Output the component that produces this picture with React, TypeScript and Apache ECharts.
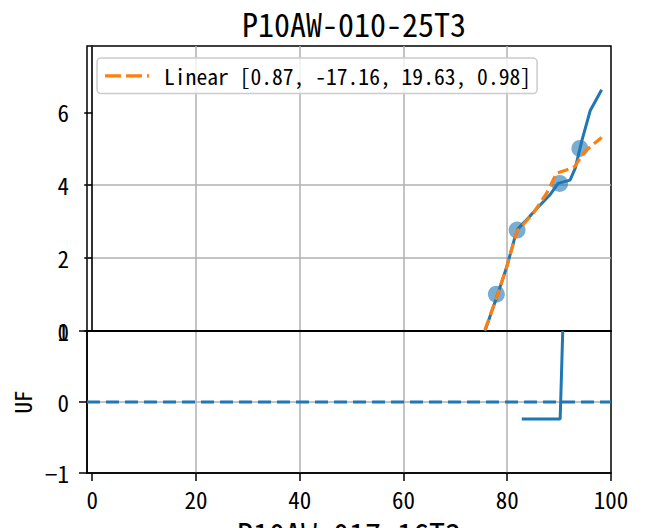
import React, { useEffect, useRef } from "react";
import * as echarts from "echarts";

const titleText = "P10AW-010-25T3";
const xName = "P10AW-017-16T3";
const yNameLower = "UF";
const legendName = "Linear [0.87, -17.16, 19.63, 0.98]";

const xTicks = [0, 20, 40, 60, 80, 100];
const upperYTicks = [0, 2, 4, 6];
const lowerYTicks = [-1, 0, 1];

// measured curve (upper panel)
const curveX = [75.7, 78.0, 79.9, 81.5, 82.1, 83.4, 85.7, 88.2, 89.8, 92.1, 93.1, 94.4, 96.0, 98.2];
const curveY = [0.0, 0.94, 1.76, 2.58, 2.81, 3.0, 3.36, 3.73, 4.05, 4.14, 4.46, 5.23, 6.05, 6.62];

// linear fit (dashed orange)
const fitX = [75.7, 78.0, 79.9, 81.8, 85.0, 87.6, 89.5, 91.4, 93.0, 94.9, 98.2];
const fitY = [0.03, 0.94, 1.76, 2.72, 3.23, 3.78, 4.33, 4.42, 4.51, 4.92, 5.31];

// sample points
const ptsX = [77.9, 81.9, 90.1, 94.0];
const ptsY = [1.01, 2.77, 4.05, 5.01];

// lower panel
const refLineX = [-1, 100];
const refLineY = [0, 0];
const stepX = [82.8, 90.2, 90.7];
const stepY = [-0.24, -0.24, 1.0];

const FONT = "'Noto Sans Mono CJK JP', 'Noto Sans CJK JP', monospace";
const BLUE = "#1f77b4";
const ORANGE = "#ff7f0e";
const GRID = "#b0b0b0";

const zip = (a: number[], b: number[]) => a.map((v, i) => [v, b[i]]);
const minus = (v: number) => (v < 0 ? "\u2212" + Math.abs(v) : String(v));

export default function App() {
  const ref = useRef<HTMLDivElement>(null);
  useEffect(() => {
    if (!ref.current) return;
    const chart = echarts.init(ref.current, null, { renderer: "svg" });
    const axisLabelStyle = { fontFamily: FONT, fontSize: 23, color: "#000" };
    const splitLine = { show: true, showMinLine: false, showMaxLine: false, lineStyle: { color: GRID, width: 1.5 } };
    const tick = { show: true, length: 8, inside: false, lineStyle: { color: "#000", width: 1.5 } };
    chart.setOption({
      animation: false,
      backgroundColor: "#fff",
      title: {
        text: titleText,
        left: 349,
        textAlign: "center",
        top: 2,
        textStyle: { fontFamily: FONT, fontSize: 32, fontWeight: "normal", color: "#000" },
      },
      legend: {
        data: [{ name: legendName, icon: "path://M0,0h16v3h-16z M21,0h16v3h-16z M42,0h2v3h-2z" }],
        left: 97,
        top: 58,
        orient: "horizontal",
        padding: [7, 6, 7, 8],
        itemWidth: 44,
        itemHeight: 3.2,
        symbolKeepAspect: false,
        backgroundColor: "rgba(255,255,255,0.8)",
        borderColor: "#cccccc",
        borderWidth: 1.5,
        borderRadius: 4,
        textStyle: { fontFamily: FONT, fontSize: 21.6, color: "#000", padding: [0, 0, 0, 10] },
      },
      grid: [
        { left: 87, top: 46, width: 524, height: 285, show: true, borderColor: "#000", borderWidth: 1.5, backgroundColor: "transparent", outerBoundsMode: "none", containLabel: false },
        { left: 87, top: 331, width: 524, height: 142, show: true, borderColor: "#000", borderWidth: 1.5, backgroundColor: "transparent", outerBoundsMode: "none", containLabel: false },
      ],
      xAxis: [
        {
          type: "value", gridIndex: 0, min: -1, max: 100, splitNumber: 5,
          axisLine: { show: true, lineStyle: { color: "#000", width: 2 } },
          axisTick: { show: false },
          axisLabel: { show: false },
          splitLine,
        },
        {
          type: "value", gridIndex: 1, min: -1, max: 100, splitNumber: 5,
          axisLine: { show: true, onZero: false, lineStyle: { color: "#000", width: 1.5 } },
          axisTick: { ...tick, customValues: xTicks },
          axisLabel: { ...axisLabelStyle, lineHeight: 18, margin: 16.5, customValues: xTicks, formatter: (v: number) => minus(v) },
          splitLine,
          name: xName,
          nameLocation: "middle",
          nameGap: 46,
          nameTextStyle: { fontFamily: FONT, fontSize: 32, lineHeight: 28, color: "#000", verticalAlign: "top" },
        },
      ],
      yAxis: [
        {
          type: "value", gridIndex: 0, min: 0, max: 7.82, interval: 2,
          axisLine: { show: true, lineStyle: { color: "#000", width: 1.5 } },
          axisTick: { ...tick, customValues: upperYTicks },
          axisLabel: { ...axisLabelStyle, margin: 18, customValues: upperYTicks, formatter: (v: number) => minus(v) },
          splitLine,
        },
        {
          type: "value", gridIndex: 1, min: -1, max: 1, interval: 1,
          axisLine: { show: true, onZero: false, lineStyle: { color: "#000", width: 1.5 } },
          axisTick: { ...tick, customValues: lowerYTicks },
          axisLabel: { ...axisLabelStyle, margin: 18, customValues: lowerYTicks, formatter: (v: number) => minus(v) },
          splitLine: { ...splitLine },
          name: yNameLower,
          nameLocation: "middle",
          nameGap: 50,
          nameTextStyle: { fontFamily: FONT, fontSize: 23, color: "#000" },
        },
      ],
      series: [
        {
          type: "scatter", xAxisIndex: 0, yAxisIndex: 0, data: zip(ptsX, ptsY),
          symbolSize: 17, itemStyle: { color: BLUE, opacity: 0.6 }, z: 2,
        },
        {
          type: "line", xAxisIndex: 0, yAxisIndex: 0, data: zip(curveX, curveY),
          symbol: "none", lineStyle: { color: BLUE, width: 3 }, itemStyle: { color: BLUE }, z: 3,
        },
        {
          name: legendName, type: "line", xAxisIndex: 0, yAxisIndex: 0, data: zip(fitX, fitY),
          symbol: "none", lineStyle: { color: ORANGE, width: 3.2, type: [11, 5] }, itemStyle: { color: ORANGE }, z: 4,
        },
        {
          type: "line", xAxisIndex: 1, yAxisIndex: 1, data: zip(refLineX, refLineY),
          symbol: "none", lineStyle: { color: BLUE, width: 3.2, type: [13, 6] }, z: 3,
        },
        {
          type: "line", xAxisIndex: 1, yAxisIndex: 1, data: zip(stepX, stepY),
          symbol: "none", lineStyle: { color: BLUE, width: 3 }, z: 3,
        },
      ],
    });
    return () => chart.dispose();
  }, []);
  return <div ref={ref} style={{ position: "fixed", left: 0, top: 0, width: 646, height: 528 }} />;
}
